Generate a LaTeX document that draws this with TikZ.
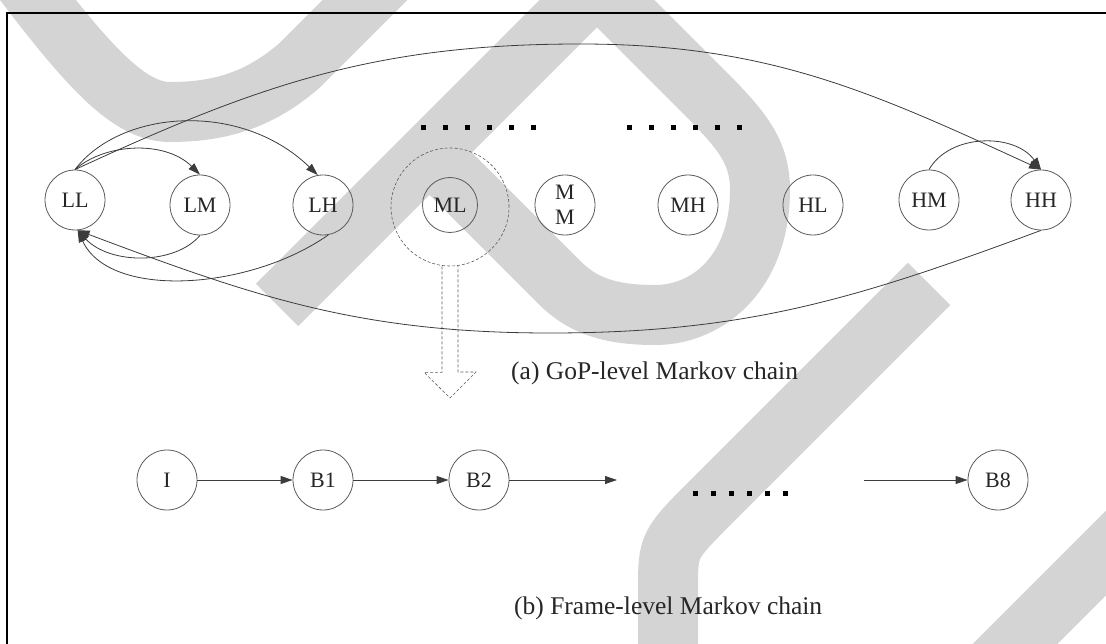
\documentclass[tikz,border=0pt]{standalone}
\usepackage{fontspec}
\setmainfont{Liberation Serif}
\usetikzlibrary{arrows.meta,calc}
\definecolor{swoosh}{HTML}{D4D4D4}
\definecolor{ink}{HTML}{5A5A5A}
\definecolor{wire}{HTML}{3C3C3C}

\begin{document}
\begin{tikzpicture}[x=1pt,y=-1pt,
  state/.style={circle,draw=ink,line width=0.8pt,minimum size=60pt,inner sep=0pt,
                font=\fontsize{22}{25}\selectfont,text=black!85},
  link/.style={draw=wire,line width=0.8pt,-{Triangle[length=12pt,width=8pt]}},
  band/.style={draw=swoosh,line width=60pt,line join=miter},
  caption/.style={font=\fontsize{25.5}{28}\selectfont,anchor=base west,inner sep=0pt,text=black!85},
  hollow/.style={draw=ink,line width=0.6pt,dash pattern=on 3pt off 2pt}]

\useasboundingbox (0,0) rectangle (1106,644);

% wide light-grey swooshes behind the drawing
\draw[band] (15,-30) .. controls (90,70) and (130,112) .. (170,112)
            .. controls (220,112) and (260,100) .. (300,65) -- (395,-30);
\draw[band] (277,305) -- (597,-15) -- (700,88)
            .. controls (740,128) and (760,150) .. (760,190)
            .. controls (760,270) and (710,315) .. (655,315)
            .. controls (615,315) and (585,308) .. (560,283) -- (430,153);
\draw[band] (929,284) -- (712,501) .. controls (668,545) .. (668,590) -- (668,680);
\draw[band] (1140,519) -- (985,674);

% frame
\draw[line width=2pt] (7,700) -- (7,13) -- (1110,13);

% GoP-level states
\node[state] (LL) at (75,200) {LL};
\node[state] (LM) at (200,205) {LM};
\node[state] (LH) at (323,205) {LH};
\node[state,minimum size=55pt] (ML) at (450,205) {ML};
\node[state,align=center] (MM) at (565,205) {M\\M};
\node[state] (MH) at (688,205) {MH};
\node[state] (HL) at (813,205) {HL};
\node[state] (HM) at (929,200) {HM};
\node[state] (HH) at (1041,200) {HH};
\node[circle,hollow,minimum size=118pt,inner sep=0pt] (MLz) at (450,207) {};

% transitions
\draw[link] (LL.north) .. controls (105,143) and (165,140) .. (LM.north);
\draw[link] (LL.north) .. controls (120,110) and (240,100) .. (LH.100);
\draw[link] (LL.north) .. controls (260,84) and (376,44) .. (580,44)
            .. controls (767,44) and (870,91) .. (HH.north);
\draw[link] (HM.north) .. controls (950,133) and (1015,133) .. (HH.north);
\draw[link] (LM.south) .. controls (175,265) and (110,265) .. (LL.-85);
\draw[link] (LH.-80) .. controls (250,290) and (110,300) .. (LL.-85);
\draw[link] (HH.south) .. controls (856,299) and (746,333) .. (550,333)
            .. controls (360,333) and (255,297) .. (LL.-85);

% ellipsis marks
\foreach \i in {0,...,5} {
  \fill (420.5+22*\i,125.5) rectangle ++(5,5);
  \fill (626.5+22*\i,125.5) rectangle ++(5,5);
  \fill (692.5+18*\i,490.5) rectangle ++(5,5);
}

% hollow zoom arrow below ML
\draw[hollow] ($(MLz.south)+(-8,0)$) -- ++(0,106) -- ++(-18,0) -- (450,398)
              -- (476,372) -- (458,372) -- ($(MLz.south)+(8,0)$);

\node[caption] (capA) at (511,380) {(a) GoP-level Markov chain};

% frame-level chain
\node[state] (I) at (167,480) {I};
\node[state] (B1) at (323,480) {B1};
\node[state] (B2) at (479,480) {B2};
\node[state] (B8) at (998,480) {B8};
\coordinate (gapL) at (617,480);
\coordinate (gapR) at (864,480);
\draw[link] (I) -- (B1);
\draw[link] (B1) -- (B2);
\draw[link] (B2) -- (gapL);
\draw[link] (gapR) -- (B8);

\node[caption] (capB) at (514,614) {(b) Frame-level Markov chain};
\end{tikzpicture}
\end{document}
